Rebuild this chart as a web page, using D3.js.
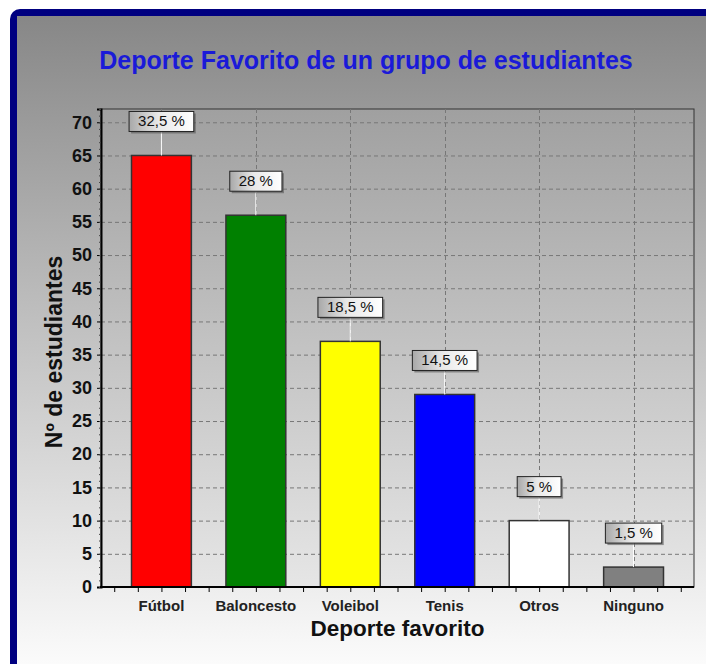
<!DOCTYPE html>
<html>
<head>
<meta charset="utf-8">
<script src="https://cdn.jsdelivr.net/npm/d3@7"></script>
<style>
	body { margin: 0; background: #fff; }
	svg { display: block; font-family: Arial, 'Liberation Sans', sans-serif; }
</style>
</head>
<body>
<svg id="svg"></svg>
<script>
// data
const deportes = ['Fútbol', 'Baloncesto', 'Voleibol', 'Tenis', 'Otros', 'Ninguno']
const estudiantes = [65, 56, 37, 29, 10, 3]
const porcentajes = ['32,5 %', '28 %', '18,5 %', '14,5 %', '5 %', '1,5 %']
const colores = ['#ff0000', '#008000', '#ffff00', '#0000ff', '#ffffff', '#808080']
const yTicks = [0, 5, 10, 15, 20, 25, 30, 35, 40, 45, 50, 55, 60, 65, 70]

const W = 706, H = 664
const plot = {left: 101, right: 694, top: 109, bottom: 587}

const svg = d3.select('#svg')
	.attr('width', W)
	.attr('height', H)

const defs = svg.append('defs')
const bgGrad = defs.append('linearGradient')
	.attr('id', 'bg-grad').attr('x1', 0).attr('y1', 0).attr('x2', 0).attr('y2', 1)
bgGrad.append('stop').attr('offset', '0%').attr('stop-color', '#878787')
bgGrad.append('stop').attr('offset', '45%').attr('stop-color', '#bdbdbd')
bgGrad.append('stop').attr('offset', '100%').attr('stop-color', '#fbfbfb')

const plotGrad = defs.append('linearGradient')
	.attr('id', 'plot-grad').attr('x1', 0).attr('y1', 0).attr('x2', 0).attr('y2', 1)
plotGrad.append('stop').attr('offset', '0%').attr('stop-color', '#a0a0a0')
plotGrad.append('stop').attr('offset', '100%').attr('stop-color', '#e6e6e6')

const boxGrad = defs.append('linearGradient')
	.attr('id', 'box-grad').attr('x1', 0).attr('y1', 0).attr('x2', 1).attr('y2', 0)
boxGrad.append('stop').attr('offset', '0%').attr('stop-color', '#a8a8a8')
boxGrad.append('stop').attr('offset', '45%').attr('stop-color', '#e8e8e8')
boxGrad.append('stop').attr('offset', '100%').attr('stop-color', '#ffffff')

// frame
svg.append('rect')
	.attr('x', 10).attr('y', 9)
	.attr('width', W + 20).attr('height', H)
	.attr('rx', 10)
	.attr('fill', '#000080')
svg.append('rect')
	.attr('x', 17).attr('y', 16)
	.attr('width', W - 17).attr('height', H - 16)
	.attr('fill', 'url(#bg-grad)')

// title
svg.append('text')
	.attr('x', 366).attr('y', 69)
	.attr('text-anchor', 'middle')
	.attr('font-size', '25px')
	.attr('font-weight', 'bold')
	.attr('fill', '#1a1ad8')
	.text('Deporte Favorito de un grupo de estudiantes')

// scales
const x = d3.scalePoint()
	.domain(deportes)
	.range([plot.left, plot.right])
	.padding(0.64)
const y = d3.scaleLinear()
	.domain([0, 72])
	.range([plot.bottom, plot.top])
const color = d3.scaleOrdinal().domain(deportes).range(colores)
const barW = x.step() * 0.634

// plot area
svg.append('rect')
	.attr('x', plot.left).attr('y', plot.top)
	.attr('width', plot.right - plot.left)
	.attr('height', plot.bottom - plot.top)
	.attr('fill', 'url(#plot-grad)')
	.attr('stroke', '#333')
	.attr('stroke-width', 1)

// grid
svg.append('g')
	.selectAll('line')
	.data(yTicks.filter(d => d > 0))
	.join('line')
	.attr('x1', plot.left).attr('x2', plot.right)
	.attr('y1', d => y(d) + 0.5).attr('y2', d => y(d) + 0.5)
	.attr('stroke', '#777')
	.attr('stroke-dasharray', '4,3')
svg.append('g')
	.selectAll('line')
	.data(deportes)
	.join('line')
	.attr('x1', d => Math.round(x(d)) + 0.5).attr('x2', d => Math.round(x(d)) + 0.5)
	.attr('y1', plot.top).attr('y2', plot.bottom)
	.attr('stroke', '#777')
	.attr('stroke-dasharray', '4,3')

// bars
svg.append('g')
	.selectAll('rect')
	.data(deportes)
	.join('rect')
	.attr('x', d => x(d) - barW / 2)
	.attr('y', (d, i) => y(estudiantes[i]))
	.attr('width', barW)
	.attr('height', (d, i) => y(0) - y(estudiantes[i]))
	.attr('fill', d => color(d))
	.attr('stroke', '#333')
	.attr('stroke-width', 1.5)

// y axis
const yAxis = svg.append('g')
	.attr('transform', `translate(${plot.left},0)`)
	.call(d3.axisLeft(y).tickValues(yTicks).tickSize(4).tickPadding(5))
yAxis.select('.domain').attr('stroke', '#000').attr('stroke-width', 2)
yAxis.selectAll('text')
	.attr('font-size', '18px')
	.attr('font-weight', 'bold')
	.attr('fill', '#111')
svg.append('g')
	.attr('transform', `translate(${plot.left},0)`)
	.call(d3.axisLeft(y).tickValues(d3.range(0, 73)).tickSize(2).tickFormat(''))
	.call(g => g.select('.domain').remove())
	.call(g => g.selectAll('line').attr('stroke', '#444'))

// x axis
const bottomTicks = d3.range(-2, 23).map(k => x(deportes[0]) + k * x.step() / 4)
const xAxis = svg.append('g')
	.attr('transform', `translate(0,${plot.bottom})`)
	.call(d3.axisBottom(d3.scaleIdentity()).tickValues(bottomTicks).tickSize(5).tickFormat(''))
xAxis.select('.domain').remove()
svg.append('line')
	.attr('x1', plot.left - 1).attr('x2', plot.right)
	.attr('y1', plot.bottom).attr('y2', plot.bottom)
	.attr('stroke', '#000').attr('stroke-width', 2)

svg.append('g')
	.selectAll('text')
	.data(deportes)
	.join('text')
	.attr('x', d => x(d))
	.attr('y', 611)
	.attr('text-anchor', 'middle')
	.attr('font-size', '15px')
	.attr('font-weight', 'bold')
	.attr('fill', '#222')
	.text(d => d)

// axis titles
svg.append('text')
	.attr('x', (plot.left + plot.right) / 2)
	.attr('y', 636)
	.attr('text-anchor', 'middle')
	.attr('font-size', '22.5px')
	.attr('font-weight', 'bold')
	.attr('fill', '#111')
	.text('Deporte favorito')
svg.append('text')
	.attr('transform', `translate(62,${(plot.top + plot.bottom) / 2 + 4}) rotate(-90)`)
	.attr('text-anchor', 'middle')
	.attr('font-size', '23px')
	.attr('font-weight', 'bold')
	.attr('fill', '#111')
	.text('Nº de estudiantes')

// percentage labels
const labels = svg.append('g')
	.selectAll('g')
	.data(deportes)
	.join('g')
	.attr('transform', (d, i) => `translate(${x(d)},${y(estudiantes[i]) - 24})`)

labels.append('line')
	.attr('x1', 0).attr('x2', 0)
	.attr('y1', 0).attr('y2', 24)
	.attr('stroke', '#fff')

labels.each(function (d, i) {
	const g = d3.select(this)
	const t = g.append('text')
		.attr('y', -5)
		.attr('text-anchor', 'middle')
		.attr('font-size', '15px')
		.attr('fill', '#111')
		.text(porcentajes[i])
	const w = t.node().getComputedTextLength() + 18
	g.insert('rect', 'text')
		.attr('x', -w / 2 + 2).attr('y', -18)
		.attr('width', w).attr('height', 20)
		.attr('fill', '#555')
		.attr('opacity', 0.6)
	g.insert('rect', 'text')
		.attr('x', -w / 2).attr('y', -20)
		.attr('width', w).attr('height', 20)
		.attr('fill', 'url(#box-grad)')
		.attr('stroke', '#222')
})
</script>
</body>
</html>
